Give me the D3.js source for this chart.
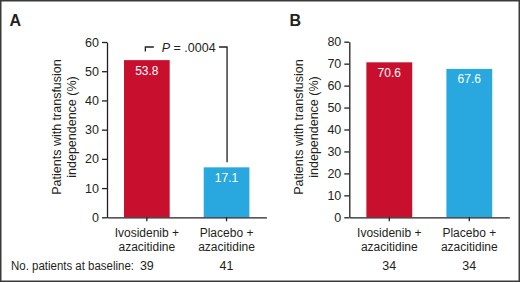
<!DOCTYPE html>
<html>
<head>
<meta charset="utf-8">
<script src="https://cdn.jsdelivr.net/npm/d3@7"></script>
<style>
  html, body { margin: 0; padding: 0; background: #fff; }
  svg { display: block; }
  text { font-family: "Liberation Sans", Arial, Helvetica, sans-serif; fill: #231f20; }
</style>
</head>
<body>
<svg id="chart" width="520" height="283"></svg>
<script>
// ---- data ----
const categories = ["Ivosidenib +\nazacitidine", "Placebo +\nazacitidine"];
const valuesA = [53.8, 17.1];
const valuesB = [70.6, 67.6];
const baselineA = [39, 41];
const baselineB = [34, 34];
const ticksA = [0, 10, 20, 30, 40, 50, 60];
const ticksB = [0, 10, 20, 30, 40, 50, 60, 70, 80];
const barColors = ["#c8102e", "#29a8e0"];
const yTitle = ["Patients with transfusion", "independence (%)"];
const pValueText = ".0004";

const svg = d3.select("#chart");
const ink = "#231f20";

// frame
svg.append("rect").attr("x", 0.75).attr("y", 0.75).attr("width", 518.5).attr("height", 280.5)
  .attr("fill", "none").attr("stroke", "#3a3a3a").attr("stroke-width", 1.5);

function panel(opts) {
  const { letter, letterX, values, ticks, yMax, x0, x1, yTop, baseline, showBaselineLabel } = opts;
  const yBottom = 217.3;
  const y = d3.scaleLinear().domain([0, yMax]).range([yBottom, yTop]);
  const x = d3.scaleBand().domain(categories).range([x0, x1]).paddingInner(0.427).paddingOuter(0.2135);
  const g = svg.append("g");

  g.append("text").text(letter).attr("x", letterX).attr("y", 25.5)
    .style("font-size", "16px").style("font-weight", "bold");

  // bars
  g.selectAll("rect.bar").data(values).join("rect")
    .attr("x", (d, i) => x(categories[i]))
    .attr("y", d => y(d))
    .attr("width", x.bandwidth())
    .attr("height", d => y(0) - y(d))
    .attr("fill", (d, i) => barColors[i]);

  // value labels
  g.selectAll("text.val").data(values).join("text")
    .attr("x", (d, i) => x(categories[i]) + x.bandwidth() / 2)
    .attr("y", d => y(d) + 14.5)
    .attr("text-anchor", "middle")
    .style("font-size", "12px")
    .style("fill", "#ffffff")
    .text(d => d.toFixed(1));

  // y axis
  const ya = g.append("g").attr("transform", `translate(${x0},0)`)
    .call(d3.axisLeft(y).tickValues(ticks).tickSize(5).tickPadding(3).tickSizeOuter(0));
  ya.select(".domain").attr("stroke", ink).attr("stroke-width", 1.3);
  ya.selectAll(".tick line").attr("stroke", ink).attr("stroke-width", 1.3);
  ya.selectAll(".tick text").style("font-size", "12.5px").style("font-family", '"Liberation Sans", Arial, sans-serif').attr("fill", ink);

  // x axis
  const xa = g.append("g").attr("transform", `translate(0,${yBottom})`)
    .call(d3.axisBottom(x).tickSize(4).tickSizeOuter(0).tickFormat(""));
  xa.select(".domain").attr("stroke", ink).attr("stroke-width", 1.3);
  xa.selectAll(".tick line").attr("stroke", ink).attr("stroke-width", 1.3);

  // category labels
  categories.forEach((c, i) => {
    const cx = x(c) + x.bandwidth() / 2;
    const lines = c.split("\n");
    lines.forEach((ln, j) => {
      g.append("text").attr("x", cx).attr("y", 236.7 + j * 14)
        .attr("text-anchor", "middle").style("font-size", "12px").text(ln);
    });
    g.append("text").attr("x", cx).attr("y", 269.5)
      .attr("text-anchor", "middle").style("font-size", "12.5px").text(baseline[i]);
  });
  if (showBaselineLabel) {
    g.append("text").attr("x", 11).attr("y", 269.5).style("font-size", "12px")
      .attr("textLength", 123).attr("lengthAdjust", "spacingAndGlyphs")
      .text("No. patients at baseline:");
  }

  // y title
  const t = g.append("text")
    .attr("transform", `translate(${x0 - 46},127) rotate(-90)`)
    .attr("text-anchor", "middle")
    .style("font-family", '"Liberation Sans Narrow", "Arial Narrow", sans-serif')
    .style("font-size", "12.5px");
  yTitle.forEach((ln, j) => {
    t.append("tspan").attr("x", 0).attr("y", j * 15).text(ln);
  });

  return { x, y, g };
}

const A = panel({ letter: "A", letterX: 9.5, values: valuesA, ticks: ticksA, yMax: 60,
  x0: 107, x1: 266.4, yTop: 42, baseline: baselineA, showBaselineLabel: true });
panel({ letter: "B", letterX: 289.5, values: valuesB, ticks: ticksB, yMax: 80,
  x0: 349.3, x1: 509.3, yTop: 41.7, baseline: baselineB, showBaselineLabel: false });

// p-value bracket in panel A
{
  const { x, y, g } = A;
  const c0 = x(categories[0]) + x.bandwidth() / 2;
  const c1 = x(categories[1]) + x.bandwidth() / 2;
  const by = 47;
  const path = d3.path();
  path.moveTo(c0 - 1.5, by + 4.5); path.lineTo(c0 - 1.5, by); path.lineTo(c0 + 7, by);
  path.moveTo(c1 - 7.5, by); path.lineTo(c1 + 0.5, by); path.lineTo(c1 + 0.5, y(valuesA[1]) - 5);
  g.append("path").attr("d", path.toString()).attr("fill", "none")
    .attr("stroke", ink).attr("stroke-width", 1.3);
  const pt = g.append("text").attr("x", (c0 + c1) / 2 + 2).attr("y", by + 4.5)
    .attr("text-anchor", "middle").style("font-size", "12.5px");
  pt.append("tspan").style("font-style", "italic").text("P");
  pt.append("tspan").text(" = " + pValueText);
}
</script>
</body>
</html>
